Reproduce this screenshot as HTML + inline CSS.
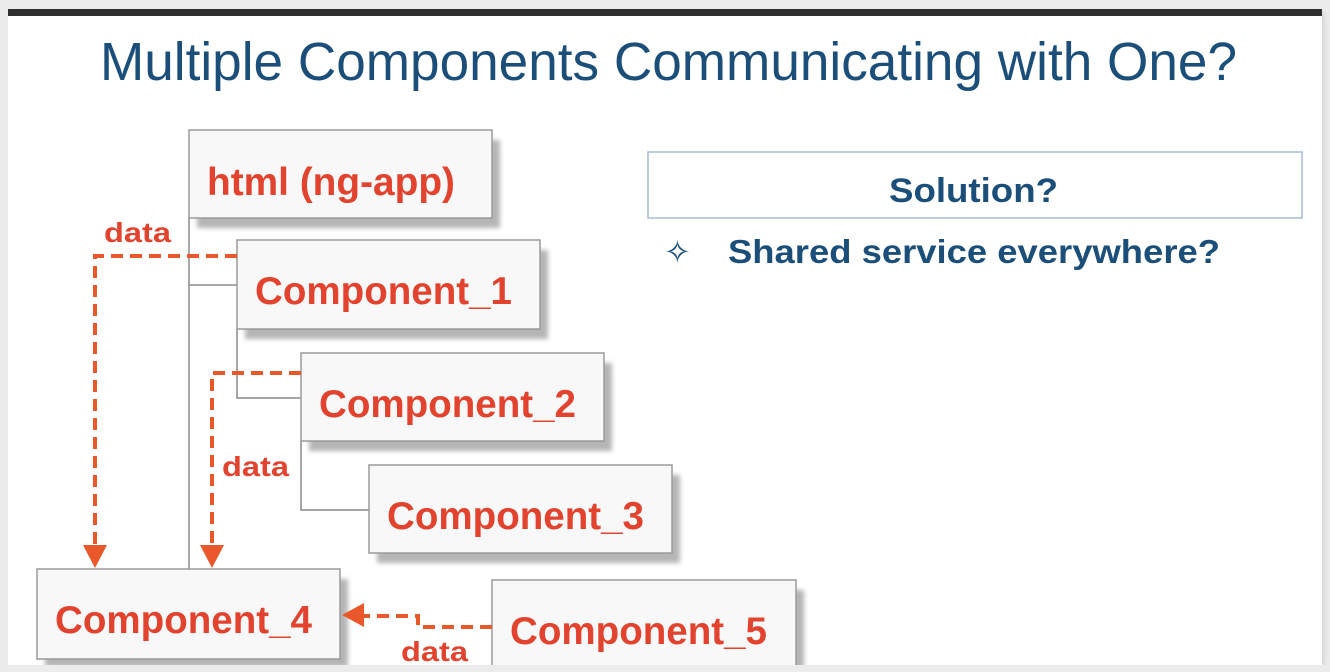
<!DOCTYPE html>
<html><head><meta charset="utf-8"><style>
html,body{margin:0;padding:0;background:#ececec;}
svg{display:block;}
</style></head><body>
<svg width="1330" height="672" xmlns="http://www.w3.org/2000/svg">
<defs>
<filter id="sh" x="-10%" y="-10%" width="130%" height="140%"><feGaussianBlur stdDeviation="2.5"/></filter>
</defs>
<rect x="0" y="0" width="1330" height="672" fill="#ececec"/>
<rect x="11" y="12" width="1314" height="656" fill="#d8d8d8" filter="url(#sh)"/>
<rect x="8" y="9" width="1314" height="656" fill="#ffffff"/>
<rect x="8" y="9" width="1314" height="7" fill="#2f2f2f"/>
<text x="100" y="80" font-family="Liberation Sans, sans-serif" font-size="54" fill="#1b4f7a" textLength="1137" lengthAdjust="spacingAndGlyphs">Multiple Components Communicating with One?</text>

<!-- tree lines -->
<g stroke="#8a8a8a" stroke-width="1.5" fill="none">
<path d="M189 218 V569 M189 285 H237"/>
<path d="M237 329 V398 H301"/>
<path d="M301 441 V510 H369"/>
</g>

<!-- boxes -->
<g font-family="Liberation Sans, sans-serif" font-weight="bold" font-size="39" fill="#e2432e">
<rect x="197" y="140" width="303" height="88" fill="#b5b5b5" filter="url(#sh)"/>
<rect x="189" y="130" width="303" height="88" fill="#f8f8f8" stroke="#9a9a9a" stroke-width="1.5"/>
<text x="207" y="195" textLength="248" lengthAdjust="spacingAndGlyphs">html (ng-app)</text>

<rect x="245" y="250" width="303" height="89" fill="#b5b5b5" filter="url(#sh)"/>
<rect x="237" y="240" width="303" height="89" fill="#f8f8f8" stroke="#9a9a9a" stroke-width="1.5"/>
<text x="255" y="304" textLength="257" lengthAdjust="spacingAndGlyphs">Component_1</text>

<rect x="309" y="363" width="303" height="88" fill="#b5b5b5" filter="url(#sh)"/>
<rect x="301" y="353" width="303" height="88" fill="#f8f8f8" stroke="#9a9a9a" stroke-width="1.5"/>
<text x="319" y="417" textLength="257" lengthAdjust="spacingAndGlyphs">Component_2</text>

<rect x="377" y="475" width="303" height="88" fill="#b5b5b5" filter="url(#sh)"/>
<rect x="369" y="465" width="303" height="88" fill="#f8f8f8" stroke="#9a9a9a" stroke-width="1.5"/>
<text x="387" y="529" textLength="257" lengthAdjust="spacingAndGlyphs">Component_3</text>

<rect x="45" y="579" width="303" height="88" fill="#b5b5b5" filter="url(#sh)"/>
<rect x="37" y="569" width="303" height="90" fill="#f8f8f8" stroke="#9a9a9a" stroke-width="1.5"/>
<text x="55" y="633" textLength="257" lengthAdjust="spacingAndGlyphs">Component_4</text>

<rect x="500" y="590" width="304" height="88" fill="#b5b5b5" filter="url(#sh)"/>
<rect x="492" y="580" width="304" height="90" fill="#f8f8f8" stroke="#9a9a9a" stroke-width="1.5"/>
<text x="510" y="644" textLength="257" lengthAdjust="spacingAndGlyphs">Component_5</text>
</g>
<rect x="0" y="665" width="1330" height="7" fill="#ececec"/>

<!-- dashed data arrows -->
<g stroke="#e8582b" stroke-width="4" fill="none" stroke-dasharray="12,7">
<path d="M237 256 H95 V548"/>
<path d="M301 373 H212 V548"/>
<path d="M492 627 H418 V616 H362"/>
</g>
<g fill="#e8582b">
<polygon points="83,545 107,545 95,568"/>
<polygon points="200,545 224,545 212,568"/>
<polygon points="364,603 364,627 342,615"/>
</g>
<g font-family="Liberation Sans, sans-serif" font-weight="bold" font-size="28" fill="#e2432e">
<text x="104" y="242" textLength="67" lengthAdjust="spacingAndGlyphs">data</text>
<text x="222" y="476" textLength="67" lengthAdjust="spacingAndGlyphs">data</text>
<text x="401" y="661" textLength="67" lengthAdjust="spacingAndGlyphs">data</text>
</g>

<!-- solution -->
<rect x="648" y="152" width="654" height="66" fill="#ffffff" stroke="#a9bcd6" stroke-width="1.5"/>
<text x="889" y="202" font-family="Liberation Sans, sans-serif" font-weight="bold" font-size="34" fill="#1b4f7a" textLength="169" lengthAdjust="spacingAndGlyphs">Solution?</text>
<text x="664" y="263" font-family="DejaVu Sans, sans-serif" font-size="32" fill="#1b4f7a">✧</text>
<text x="728" y="263" font-family="Liberation Sans, sans-serif" font-weight="bold" font-size="33" fill="#1b4f7a" textLength="492" lengthAdjust="spacingAndGlyphs">Shared service everywhere?</text>
</svg>
</body></html>
